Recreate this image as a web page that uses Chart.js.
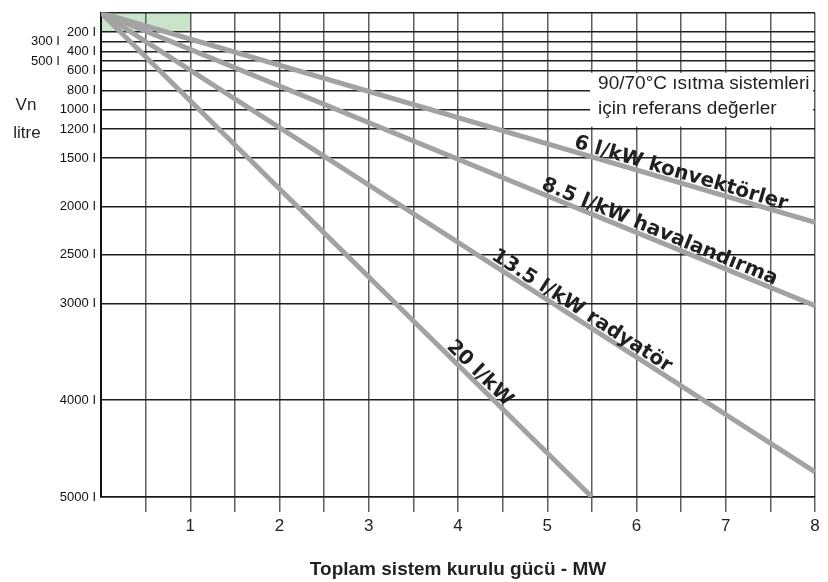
<!DOCTYPE html>
<html><head><meta charset="utf-8">
<script src="https://cdn.jsdelivr.net/npm/chart.js@4"></script>
<style>html,body{margin:0;padding:0;background:#fff;}#wrap{width:828px;height:582px;}</style>
</head><body><div id="wrap"><canvas id="c" width="828" height="582"></canvas></div>
<script>
// ---- data ----
const seriesLabels = ['6 l/kW konvektörler', '8.5 l/kW havalandırma', '13.5 l/kW radyatör', '20 l/kW'];
const startPowerMW = [0, 0, 0, 0];
const startVolumeL = [0, 0, 0, 0];
const endPowerMW = [8, 8, 8, 5.5];
const endVolumeL = [2165, 3024, 4742, 5000];
const labelAtPowerMW = [6.47, 6.22, 5.33, 4.17];
const yTickValues = [0, 200, 300, 400, 500, 600, 800, 1000, 1200, 1500, 2000, 2500, 3000, 4000, 5000];
const yTickLabels = ['', '200', '300', '400', '500', '600', '800', '1000', '1200', '1500', '2000', '2500', '3000', '4000', '5000'];
const staggeredYTicks = [300, 500];
const xTickValues = [0, 0.5, 1, 1.5, 2, 2.5, 3, 3.5, 4, 4.5, 5, 5.5, 6, 6.5, 7, 7.5, 8];
const xTickLabels = ['', '', '1', '', '2', '', '3', '', '4', '', '5', '', '6', '', '7', '', '8'];
const yAxisTitle = ['Vn', 'litre'];
const xAxisTitle = 'Toplam sistem kurulu gücü - MW';
const noteLines = ['90/70°C ısıtma sistemleri', 'için referans değerler'];
const highlightPowerMW = [0, 1];
const highlightVolumeL = [0, 200];
const notePowerMW = [5.48, 7.98];
const noteVolumeL = [620, 1175];

// ---- chart ----
const FONT = '"Liberation Sans", Arial, sans-serif';
const datasets = seriesLabels.map((name, i) => ({
  label: name,
  data: [{x: startPowerMW[i], y: startVolumeL[i]}, {x: endPowerMW[i], y: endVolumeL[i]}],
  borderColor: '#a2a2a2',
  borderWidth: 5,
  pointRadius: 0,
  fill: false,
  tension: 0,
  borderCapStyle: 'butt'
}));

const decorPlugin = {
  id: 'decor',
  beforeDraw(chart) {
    const {ctx, scales: {x, y}} = chart;
    ctx.save();
    ctx.fillStyle = '#ffffff';
    ctx.fillRect(0, 0, chart.width, chart.height);
    const x0 = x.getPixelForValue(highlightPowerMW[0]), x1 = x.getPixelForValue(highlightPowerMW[1]);
    const y0 = y.getPixelForValue(highlightVolumeL[0]), y1 = y.getPixelForValue(highlightVolumeL[1]);
    ctx.fillStyle = '#c9e4cb';
    ctx.fillRect(x0, y0, x1 - x0, y1 - y0);
    ctx.restore();
  },
  beforeDatasetsDraw(chart) {
    const {ctx, scales: {x, y}} = chart;
    const bx0 = x.getPixelForValue(notePowerMW[0]), bx1 = x.getPixelForValue(notePowerMW[1]);
    const by0 = y.getPixelForValue(noteVolumeL[0]), by1 = y.getPixelForValue(noteVolumeL[1]);
    ctx.save();
    ctx.fillStyle = '#ffffff';
    ctx.fillRect(bx0, by0, bx1 - bx0, by1 - by0);
    ctx.fillStyle = '#231f20';
    ctx.font = '19px ' + FONT;
    ctx.textAlign = 'left';
    ctx.textBaseline = 'alphabetic';
    ctx.fillText(noteLines[0], bx0 + 8, by0 + 16);
    ctx.fillText(noteLines[1], bx0 + 8, by0 + 41);
    ctx.restore();
  },
  afterDatasetsDraw(chart) {
    const {ctx, scales: {x, y}} = chart;
    ctx.save();
    // line labels
    ctx.fillStyle = '#231f20';
    ctx.font = 'bold 20px "DejaVu Sans", sans-serif';
    ctx.textAlign = 'center';
    ctx.textBaseline = 'alphabetic';
    chart.data.datasets.forEach((ds, i) => {
      const pts = chart.getDatasetMeta(i).data;
      const p0 = pts[0], p1 = pts[1];
      const a = Math.atan2(p1.y - p0.y, p1.x - p0.x);
      const px = x.getPixelForValue(labelAtPowerMW[i]);
      const py = p0.y + (px - p0.x) * Math.tan(a);
      const d = 4;
      ctx.save();
      ctx.translate(px + d * Math.sin(a), py - d * Math.cos(a));
      ctx.rotate(a);
      ctx.fillText(ds.label, 0, 0);
      ctx.restore();
    });
    // y axis title (horizontal)
    ctx.font = '17px ' + FONT;
    ctx.textBaseline = 'middle';
    ctx.textAlign = 'center';
    ctx.fillText(yAxisTitle[0], 26, 105);
    ctx.fillText(yAxisTitle[1], 27, 133);
    ctx.restore();
  }
};

new Chart(document.getElementById('c'), {
  type: 'line',
  data: {datasets},
  options: {
    responsive: false,
    animation: false,
    devicePixelRatio: 1,
    layout: {padding: {left: 0, right: 13, top: 12, bottom: 0}},
    plugins: {legend: {display: false}, tooltip: {enabled: false}, title: {display: false}},
    scales: {
      x: {
        type: 'linear', min: 0, max: 8,
        afterBuildTicks: s => { s.ticks = xTickValues.map(v => ({value: v})); },
        afterFit: s => { s.height = 85; },
        ticks: {
          autoSkip: false, maxRotation: 0, padding: 4,
          color: '#231f20',
          font: {family: FONT, size: 17},
          callback: (v) => { const k = xTickValues.indexOf(v); return k >= 0 ? xTickLabels[k] : ''; }
        },
        grid: {
          color: '#5e5e5e', lineWidth: 1.5, tickLength: 15,
          tickColor: c => (c.tick && c.tick.value === 0) ? 'rgba(0,0,0,0)' : '#5e5e5e'
        },
        border: {display: true, color: '#1a1a1a', width: 1.5},
        title: {display: true, text: xAxisTitle, color: '#231f20',
          font: {family: FONT, size: 19, weight: 'bold'}, padding: {top: 0, bottom: 1}}
      },
      y: {
        type: 'linear', reverse: true, min: 0, max: 5000,
        afterBuildTicks: s => { s.ticks = yTickValues.map(v => ({value: v})); },
        afterFit: s => { s.width = 101; },
        ticks: {
          autoSkip: false, padding: 5, color: '#111111',
          font: {family: FONT, size: 13},
          callback: (v) => {
            const k = yTickValues.indexOf(v);
            if (k < 0 || yTickLabels[k] === '') return '';
            return yTickLabels[k] + ' I' + (staggeredYTicks.includes(v) ? ' '.repeat(10) : '');
          }
        },
        grid: {color: '#1e1e1e', lineWidth: 1.5, drawTicks: false},
        border: {display: true, color: '#111111', width: 2}
      }
    }
  },
  plugins: [decorPlugin]
});
</script>
</body></html>
